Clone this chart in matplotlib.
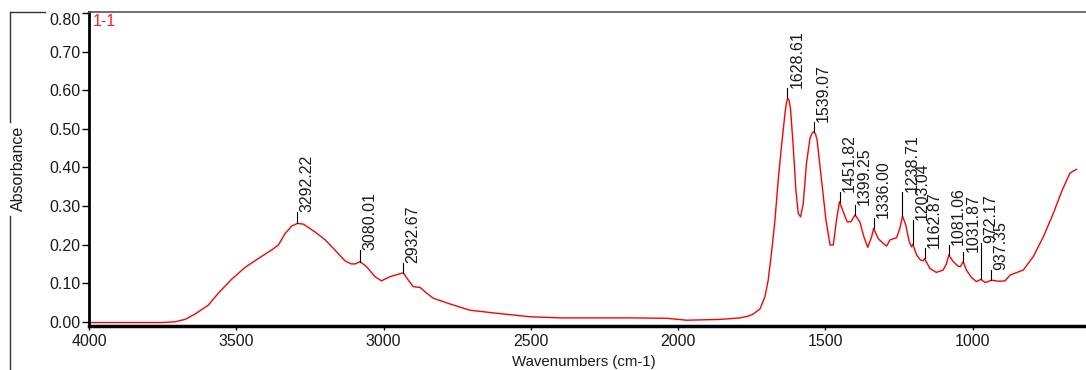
import matplotlib
matplotlib.use("Agg")
import matplotlib.pyplot as plt
from matplotlib.lines import Line2D

plt.rcParams['font.family'] = ['Liberation Sans', 'DejaVu Sans']

# IR spectrum (wavenumber cm-1, absorbance)
wavenumber = [4000, 3850, 3750, 3708, 3674, 3640, 3595, 3561, 3516, 3470, 3425, 3380,
              3357, 3334, 3312, 3292, 3272, 3233, 3199, 3165, 3131, 3110, 3095, 3080,
              3058, 3029, 3007, 2978, 2950, 2933, 2916, 2899, 2876, 2855, 2831, 2774,
              2707, 2616, 2503, 2400, 2300, 2163, 2039, 1971, 1858, 1790, 1760, 1745,
              1722, 1705, 1694, 1683, 1671, 1660, 1649, 1637, 1632, 1628, 1623, 1618,
              1609, 1600, 1592, 1584, 1575, 1564, 1552, 1545, 1539, 1533, 1528, 1513,
              1498, 1484, 1473, 1462, 1452, 1437, 1426, 1413, 1399, 1383, 1369, 1356,
              1343, 1336, 1320, 1306, 1292, 1281, 1258, 1247, 1238, 1227, 1215, 1207,
              1203, 1190, 1177, 1168, 1163, 1145, 1123, 1100, 1089, 1081, 1066, 1049,
              1041, 1032, 1021, 1004, 987, 972, 958, 947, 937, 913, 890, 873, 828, 794,
              760, 726, 698, 670, 655, 647]
absorbance = [-0.002, -0.002, -0.002, 0.000, 0.006, 0.020, 0.043, 0.074, 0.110, 0.141, 0.164, 0.186,
              0.199, 0.229, 0.248, 0.255, 0.253, 0.233, 0.213, 0.186, 0.158, 0.150, 0.150, 0.156,
              0.143, 0.117, 0.106, 0.117, 0.123, 0.127, 0.108, 0.091, 0.089, 0.075, 0.061, 0.046,
              0.030, 0.022, 0.013, 0.010, 0.010, 0.010, 0.009, 0.004, 0.006, 0.010, 0.015, 0.020,
              0.033, 0.065, 0.108, 0.177, 0.264, 0.367, 0.454, 0.540, 0.568, 0.579, 0.574, 0.550,
              0.454, 0.341, 0.281, 0.272, 0.307, 0.411, 0.476, 0.489, 0.493, 0.486, 0.471, 0.367,
              0.264, 0.199, 0.199, 0.264, 0.311, 0.281, 0.259, 0.259, 0.277, 0.259, 0.220, 0.193,
              0.220, 0.242, 0.215, 0.205, 0.196, 0.212, 0.218, 0.242, 0.274, 0.251, 0.207, 0.194,
              0.201, 0.173, 0.160, 0.158, 0.164, 0.138, 0.128, 0.134, 0.150, 0.173, 0.156, 0.144,
              0.143, 0.156, 0.134, 0.115, 0.104, 0.110, 0.102, 0.104, 0.108, 0.105, 0.106, 0.121,
              0.134, 0.169, 0.220, 0.281, 0.337, 0.385, 0.392, 0.395]

# peak annotations: label, peak height, height where the label starts
peak_labels = ["3292.22", "3080.01", "2932.67", "1628.61", "1539.07", "1451.82", "1399.25",
               "1336.00", "1238.71", "1203.04", "1162.87", "1081.06", "1031.87", "972.17",
               "937.35"]
peak_height = [0.255, 0.156, 0.127, 0.579, 0.493, 0.311, 0.277, 0.242, 0.274, 0.201,
               0.164, 0.173, 0.156, 0.110, 0.108]
label_base = [0.285, 0.186, 0.153, 0.606, 0.519, 0.337, 0.303, 0.268, 0.337, 0.264,
              0.190, 0.199, 0.181, 0.203, 0.134]

fig = plt.figure(figsize=(10.86, 3.70), dpi=100)
ax = fig.add_axes([89 / 1086, 44 / 370, 997 / 1086, 314 / 370])

ax.plot(wavenumber, absorbance, color="#ff0000", lw=1.0)

for lab, ph, lb in zip(peak_labels, peak_height, label_base):
    x = float(lab)
    ax.plot([x, x], [ph, lb], color="black", lw=0.8)
    ax.annotate(lab, (x, lb), xytext=(1.5, 0), textcoords="offset points",
                rotation=90, ha="left", va="bottom", fontsize=11.5, color="#1a1a1a")

ax.set_xlim(4000, 615)
ax.set_ylim(-0.011, 0.803)
ax.set_xticks([4000, 3500, 3000, 2500, 2000, 1500, 1000])
ax.set_yticks([0.0, 0.1, 0.2, 0.3, 0.4, 0.5, 0.6, 0.7, 0.8])
ax.set_yticklabels(["0.00", "0.10", "0.20", "0.30", "0.40", "0.50", "0.60", "0.70", "0.80"])
ax.tick_params(axis="y", length=5, width=1, pad=1, labelsize=11.5, labelcolor="#1a1a1a")
ax.tick_params(axis="x", length=3, width=1, pad=3, labelsize=11.5, labelcolor="#1a1a1a")
ax.get_yticklabels()[-1].set_va("top")

ax.spines["right"].set_visible(False)
ax.spines["left"].set_linewidth(2)
ax.spines["bottom"].set_linewidth(2.5)
ax.spines["top"].set_linewidth(1.2)
ax.spines["top"].set_color("#555555")

ax.text(0.004, 0.995, "1-1", transform=ax.transAxes, color="#ff2020",
        fontsize=11.5, ha="left", va="top")

fig.text(18 / 1086, 1 - 168 / 370, "Absorbance", rotation=90, ha="center", va="center",
         fontsize=11.5, color="#1a1a1a")
fig.text(584 / 1086, 1 - 362 / 370, "Wavenumbers (cm-1)", ha="center", va="center",
         fontsize=10.8, color="#1a1a1a")

# outer frame pieces
fx = 10 / 1086
fig.add_artist(Line2D([fx, fx], [1 - 12 / 370, 1 - 122 / 370], transform=fig.transFigure,
                      color="#333333", lw=1))
fig.add_artist(Line2D([fx, fx], [1 - 216 / 370, 0], transform=fig.transFigure,
                      color="#333333", lw=1))
fig.add_artist(Line2D([fx, 45 / 1086], [1 - 12 / 370, 1 - 12 / 370], transform=fig.transFigure,
                      color="#333333", lw=1))

fig.savefig("out.png", dpi=100)
